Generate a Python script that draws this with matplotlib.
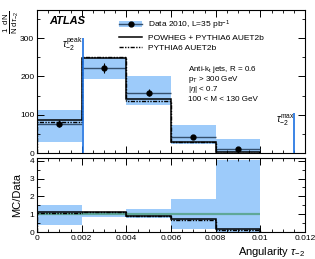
import numpy as np
import matplotlib
matplotlib.use("Agg")
import matplotlib.pyplot as plt
from matplotlib.patches import Patch
from matplotlib.lines import Line2D
from matplotlib.ticker import MultipleLocator

plt.rcParams['font.family'] = ['Liberation Sans', 'DejaVu Sans']
plt.rcParams['mathtext.fontset'] = 'custom'
plt.rcParams['mathtext.rm'] = 'Liberation Sans'
plt.rcParams['mathtext.it'] = 'Liberation Sans:italic'
plt.rcParams['mathtext.bf'] = 'Liberation Sans:bold'

# ---- data ----
bin_edges = [0.0, 0.002, 0.004, 0.006, 0.008, 0.010]
data_vals = [76, 222, 157, 42, 10]
data_stat = [9, 12, 9, 4, 3]
band_lo = [30, 193, 125, 23, 3]
band_hi = [112, 247, 201, 73, 36]
powheg_vals = [86, 247, 141, 30, 1.5]
pythia_vals = [80, 250, 137, 28, 1.2]
ratio_band_lo = [0.42, 0.87, 0.80, 0.18, 0.0]
ratio_band_hi = [1.50, 1.15, 1.28, 1.84, 4.05]
tau_peak = 0.00205
tau_max = 0.0115
peak_line_top = 300
max_line_top = 105

edges = np.array(bin_edges)
data = np.array(data_vals, float)
centers = 0.5 * (edges[:-1] + edges[1:])

band_col = '#9dcbfa'
vline_col = '#1a6fe0'
dline_col = '#34506e'

fig = plt.figure(figsize=(3.15, 2.59), dpi=100)
ax = fig.add_axes([0.1175, 0.409, 0.851, 0.552])
axr = fig.add_axes([0.1175, 0.104, 0.851, 0.286])

# ---- top panel ----
ax.stairs(band_hi, edges, baseline=band_lo, fill=True, color=band_col, lw=0, zorder=1)
ax.hlines(data, edges[:-1], edges[1:], color=dline_col, lw=1.0, zorder=2)
ax.stairs(powheg_vals, edges, color='k', lw=1.1, zorder=3)
ax.stairs(pythia_vals, edges, color='k', lw=1.0, ls=(0, (3, 1, 1, 1, 1, 1)), zorder=3)
ax.errorbar(centers, data, yerr=data_stat, fmt='o', color='k', ms=3.5,
            elinewidth=0.8, capsize=0, zorder=4)
ax.vlines([tau_peak], 0, peak_line_top, color=vline_col, lw=1.2, zorder=5)
ax.vlines([tau_max], 0, max_line_top, color=vline_col, lw=1.2, zorder=5)

ax.set_xlim(0, 0.012)
ax.set_ylim(0, 373)
ax.set_xticks([0, 0.002, 0.004, 0.006, 0.008, 0.010, 0.012])
ax.xaxis.set_minor_locator(MultipleLocator(0.0005))
ax.set_yticks([0, 100, 200, 300])
ax.yaxis.set_minor_locator(MultipleLocator(50))
ax.tick_params(labelbottom=False)

for a in (ax, axr):
    a.tick_params(which='both', direction='in', top=True, right=True, labelsize=6, pad=2)
    a.tick_params(which='major', length=5, width=0.7)
    a.tick_params(which='minor', length=2.5, width=0.6)
    for s in a.spines.values():
        s.set_linewidth(0.8)

ax.text(0.047, 0.925, 'ATLAS', transform=ax.transAxes, fontsize=8,
        fontweight='bold', fontstyle='italic', va='center', ha='left')

h_data = (Patch(facecolor=band_col, edgecolor='none'),
          Line2D([], [], color=dline_col, lw=1.0),
          Line2D([], [], marker='o', color='k', ms=3.5, ls='none'))
h_pow = Line2D([], [], color='k', lw=1.1)
h_pyt = Line2D([], [], color='k', lw=1.0, ls=(0, (3, 1, 1, 1, 1, 1)))
leg = ax.legend([h_data, h_pow, h_pyt],
                [r'Data 2010, L=35 pb$^{\mathregular{-1}}$',
                 'POWHEG + PYTHIA6 AUET2b', 'PYTHIA6 AUET2b'],
                loc='upper left', bbox_to_anchor=(0.295, 0.965), frameon=False,
                fontsize=6, handlelength=2.7, handletextpad=0.7,
                labelspacing=0.3, borderaxespad=0)

info = [r'Anti-k$_\mathregular{t}$ jets, R = 0.6',
        r'p$_\mathregular{T}$ > 300 GeV',
        r'|$\eta$| < 0.7',
        '100 < M < 130 GeV']
for i, t in enumerate(info):
    ax.text(0.565, 0.585 - i * 0.069, t, transform=ax.transAxes, fontsize=5.8,
            va='center', ha='left')

ax.text(0.0016, 285, r'$\tau_{\mathregular{-2}}^{\mathregular{peak}}$', fontsize=7,
        ha='center', va='center')
ax.text(0.0111, 85, r'$\tau_{\mathregular{-2}}^{\mathregular{max}}$', fontsize=7,
        ha='center', va='center')

fig.text(0.035, 0.96, r'$\frac{\mathregular{1}}{\mathregular{N}}\frac{\mathregular{d\,N}}{\mathregular{d}\,\tau_{\mathregular{-2}}}$',
         rotation=90, fontsize=8, ha='center', va='top')

# ---- ratio panel ----
ratio_pow = np.array(powheg_vals) / data
ratio_pyt = np.array(pythia_vals) / data
axr.stairs(ratio_band_hi, edges, baseline=ratio_band_lo, fill=True, color=band_col, lw=0, zorder=1)
axr.hlines(1, edges[0], edges[-1], color='#5fa898', lw=1.6, zorder=2)
axr.stairs(ratio_pow, edges, color='k', lw=1.1, zorder=3)
axr.stairs(ratio_pyt, edges, color='k', lw=1.0, ls=(0, (3, 1, 1, 1, 1, 1)), zorder=3)

axr.set_xlim(0, 0.012)
axr.set_ylim(0, 4.15)
axr.set_xticks([0, 0.002, 0.004, 0.006, 0.008, 0.010, 0.012])
axr.set_xticklabels(['0', '0.002', '0.004', '0.006', '0.008', '0.01', '0.012'])
axr.xaxis.set_minor_locator(MultipleLocator(0.0005))
axr.set_yticks([0, 1, 2, 3, 4])
axr.yaxis.set_minor_locator(MultipleLocator(0.5))
axr.set_ylabel('MC/Data', fontsize=8, labelpad=5)
axr.set_xlabel(r'Angularity $\tau_{\mathregular{-2}}$', fontsize=8, loc='right', labelpad=2)

fig.savefig('out.png', dpi=100)
